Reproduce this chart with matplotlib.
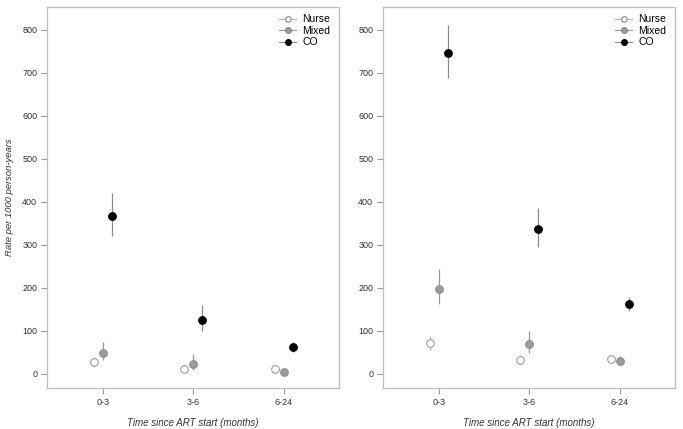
import matplotlib
matplotlib.use("Agg")
import matplotlib.pyplot as plt
from matplotlib.lines import Line2D
import numpy as np

plt.rcParams['font.family'] = ['Liberation Sans', 'DejaVu Sans']

categories = ["0-3", "3-6", "6-24"]
series = ["Nurse", "Mixed", "CO"]

# Left panel: rate, lower CI, upper CI
left_nurse = [27, 12, 11]
left_nurse_lo = [18, 6, 6]
left_nurse_hi = [40, 20, 16]
left_mixed = [49, 23, 4]
left_mixed_lo = [32, 9, 1]
left_mixed_hi = [74, 46, 10]
left_co = [367, 126, 62]
left_co_lo = [321, 100, 52]
left_co_hi = [420, 160, 73]

# Right panel
right_nurse = [71, 32, 34]
right_nurse_lo = [56, 22, 27]
right_nurse_hi = [89, 43, 41]
right_mixed = [197, 70, 31]
right_mixed_lo = [162, 48, 22]
right_mixed_hi = [243, 100, 41]
right_co = [746, 337, 162]
right_co_lo = [688, 295, 146]
right_co_hi = [811, 386, 178]

yticks = [0, 100, 200, 300, 400, 500, 600, 700, 800]

styles = {
    "Nurse": dict(mfc="white", mec="#9a9a9a", line="#b0b0b0"),
    "Mixed": dict(mfc="#9c9c9c", mec="#8c8c8c", line="#9a9a9a"),
    "CO": dict(mfc="black", mec="black", line="#8a8a8a"),
}
offsets = {"Nurse": -0.1, "Mixed": 0.0, "CO": 0.1}

fig = plt.figure(figsize=(6.83, 4.29), dpi=100)
W, H = 683, 429
ax1 = fig.add_axes([47 / W, 1 - 388 / H, (339 - 47) / W, (388 - 7) / H])
ax2 = fig.add_axes([383 / W, 1 - 388 / H, (675 - 383) / W, (388 - 7) / H])

panels = [
    (ax1, {"Nurse": (left_nurse, left_nurse_lo, left_nurse_hi),
           "Mixed": (left_mixed, left_mixed_lo, left_mixed_hi),
           "CO": (left_co, left_co_lo, left_co_hi)}),
    (ax2, {"Nurse": (right_nurse, right_nurse_lo, right_nurse_hi),
           "Mixed": (right_mixed, right_mixed_lo, right_mixed_hi),
           "CO": (right_co, right_co_lo, right_co_hi)}),
]

xpos = np.arange(1, len(categories) + 1)
for ax, data in panels:
    for s in series:
        v, lo, hi = data[s]
        st = styles[s]
        x = xpos + offsets[s]
        ax.vlines(x, lo, hi, color=st["line"], lw=0.9, zorder=2)
        ax.plot(x, v, 'o', ms=5.5, mfc=st["mfc"], mec=st["mec"], mew=0.8,
                ls='none', zorder=3)
    ax.set_xlim(0.38, 3.61)
    ax.set_ylim(-32.8, 852.8)
    ax.set_xticks(xpos)
    ax.set_xticklabels(categories)
    ax.set_yticks(yticks)
    ax.tick_params(axis='both', colors='#9a9a9a', labelcolor='#333333',
                   labelsize=6.5, length=4, width=0.8, pad=3)
    for sp in ax.spines.values():
        sp.set_color('#bdbdbd')
        sp.set_linewidth(0.9)
    ax.set_xlabel("Time since ART start (months)", fontstyle='italic',
                  fontsize=7, color='#333333', labelpad=8)
    handles = [Line2D([0], [0], color=styles[s]["line"], lw=0.8, marker='o',
                      ms=4, mfc=styles[s]["mfc"], mec=styles[s]["mec"])
               for s in series]
    ax.legend(handles, series, loc='upper right', frameon=False, fontsize=7.5,
              handlelength=1.6, handletextpad=0.6, labelspacing=0.15,
              borderaxespad=0.3, bbox_to_anchor=(0.995, 1.0))

ax1.set_ylabel("Rate per 1000 person-years", fontstyle='italic', fontsize=6.8,
               color='#333333')
ax1.yaxis.set_label_coords(-33 / 292, 0.5)

fig.savefig("out.png", dpi=100)
